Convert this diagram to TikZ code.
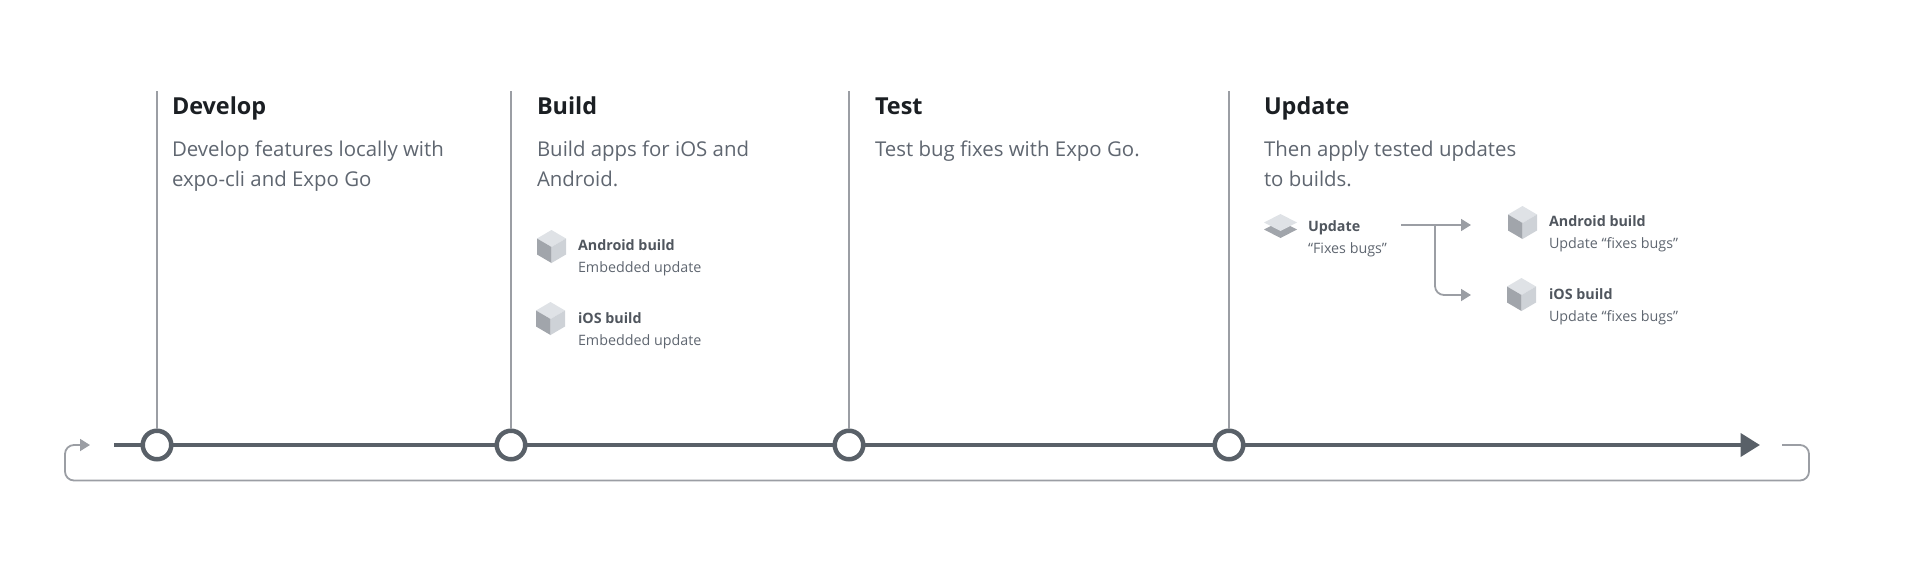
\documentclass[tikz,border=0pt]{standalone}
\usepackage{fontspec}
\setmainfont{Open Sans}
\usetikzlibrary{arrows.meta}
\definecolor{titlec}{HTML}{1B1F23}
\definecolor{bodyc}{HTML}{5F6670}
\definecolor{labelc}{HTML}{50565E}
\definecolor{linec}{HTML}{9B9EA4}
\definecolor{darkc}{HTML}{596068}
\definecolor{ctop}{HTML}{DFE2E6}
\definecolor{cright}{HTML}{CED2D7}
\definecolor{cleft}{HTML}{A1A5AB}
\tikzset{
  txt/.style={inner sep=0pt,outer sep=0pt,anchor=base west},
  headtxt/.style={txt,text=titlec,font=\fontsize{23.4}{26}\selectfont\bfseries},
  bodytxt/.style={txt,text=bodyc,font=\fontsize{20.4}{30}\selectfont},
  itemtxt/.style={txt,text=labelc,font=\fontsize{14.3}{18}\selectfont\bfseries},
  subtxt/.style={txt,text=bodyc,font=\fontsize{14.3}{18}\selectfont},
  stage/.style={circle,draw=darkc,line width=4.5pt,fill=white,minimum size=28.5pt,inner sep=0pt},
  stem/.style={draw=linec,line width=1.6pt},
  axis/.style={draw=darkc,line width=4.2pt,-{Triangle[length=19.5pt,width=23pt]}},
  flow/.style={draw=linec,line width=1.8pt,rounded corners=9pt,-{Triangle[length=10pt,width=12pt]}},
  cube/.pic={
    \fill[ctop] (0,-16.5)--(14.5,-8)--(0,0.5)--(-14.5,-8)--cycle;
    \fill[cleft] (-14.5,-8)--(0,0.5)--(0,16.5)--(-14.5,8)--cycle;
    \fill[cright] (14.5,-8)--(0,0.5)--(0,16.5)--(14.5,8)--cycle;
  },
}
\begin{document}
\begin{tikzpicture}[x=1pt,y=-1pt]
\useasboundingbox (0,0) rectangle (1920,576);
% return loop
\coordinate (rs) at (1782,445);
\coordinate (re) at (90,445);
\draw[flow] (rs) -- (1809,445) -- (1809,480.5) -- (65,480.5) -- (65,445) -- (re);
% timeline
\coordinate (as) at (114,445);
\coordinate (ae) at (1760,445);
\draw[axis] (as) -- (ae);
% stages
\node[stage] (n1) at (157,445) {};
\node[stage] (n2) at (511,445) {};
\node[stage] (n3) at (849,445) {};
\node[stage] (n4) at (1229,445) {};
\coordinate (t1) at (157,91);
\coordinate (t2) at (511,91);
\coordinate (t3) at (849,91);
\coordinate (t4) at (1229,91);
\draw[stem] (t1) -- (n1.north);
\draw[stem] (t2) -- (n2.north);
\draw[stem] (t3) -- (n3.north);
\draw[stem] (t4) -- (n4.north);
% headings
\node[headtxt] (h1) at (172,114) {Develop};
\node[headtxt] (h2) at (537,114) {Build};
\node[headtxt] (h3) at (875,114) {Test};
\node[headtxt] (h4) at (1264,114) {Update};
\node[bodytxt] (b1a) at (172,156) {Develop features locally with};
\node[bodytxt] (b1b) at (172,186) {expo-cli and Expo Go};
\node[bodytxt] (b2a) at (537,156) {Build apps for iOS and};
\node[bodytxt] (b2b) at (537,186) {Android.};
\node[bodytxt] (b3a) at (875,156) {Test bug fixes with Expo Go.};
\node[bodytxt] (b4a) at (1264,156) {Then apply tested updates};
\node[bodytxt] (b4b) at (1264,186) {to builds.};
% build items
\pic at (551.5,246.5) {cube};
\node[itemtxt] (l1) at (578,250) {Android build};
\node[subtxt] (s1) at (578,272) {Embedded update};
\pic at (550.5,318.5) {cube};
\node[itemtxt] (l2) at (578,323) {iOS build};
\node[subtxt] (s2) at (578,345) {Embedded update};
% update item
\fill[cleft] (1264,229.5) -- (1280.5,221) -- (1297,229.5) -- (1280.5,238) -- cycle;
\fill[ctop] (1264,222.5) -- (1280.5,214) -- (1297,222.5) -- (1280.5,231) -- cycle;
\node[itemtxt] (l3) at (1308,231) {Update};
\node[subtxt] (s3) at (1308,253) {“Fixes bugs”};
% update arrows
\coordinate (us) at (1401,225);
\coordinate (ub) at (1435,225);
\coordinate (ua) at (1471,225);
\coordinate (uc) at (1471,295);
\draw[flow] (us) -- (ua);
\draw[flow] (ub) -- (1435,295) -- (uc);
% update targets
\pic at (1522.5,222.5) {cube};
\node[itemtxt] (l4) at (1549,226) {Android build};
\node[subtxt] (s4) at (1549,248) {Update “fixes bugs”};
\pic at (1521.5,294.5) {cube};
\node[itemtxt] (l5) at (1549,299) {iOS build};
\node[subtxt] (s5) at (1549,321) {Update “fixes bugs”};
\end{tikzpicture}
\end{document}
